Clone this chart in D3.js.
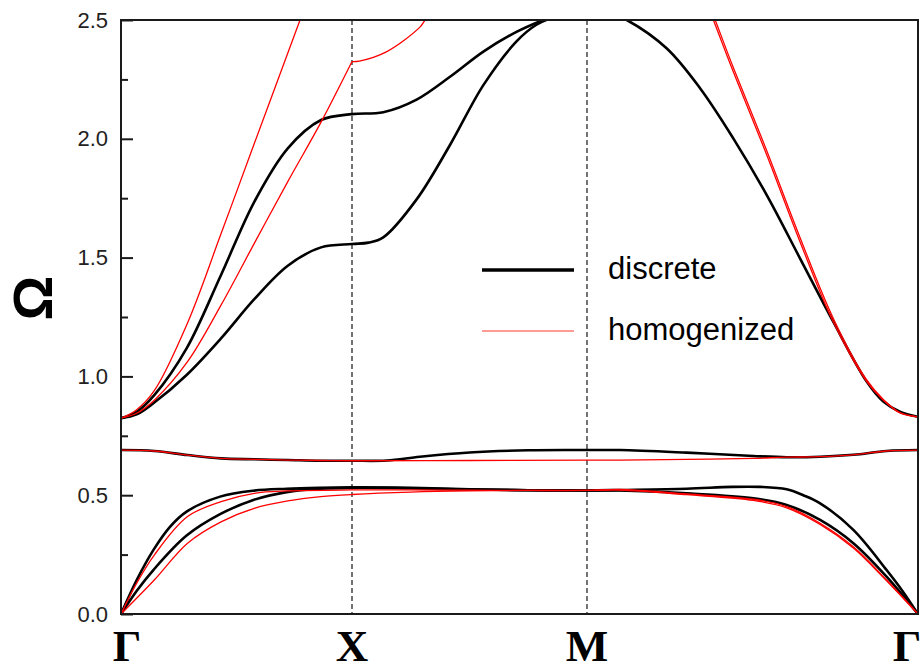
<!DOCTYPE html>
<html>
<head>
<meta charset="utf-8">
<script src="https://cdn.jsdelivr.net/npm/d3@7"></script>
<style>
  body { margin: 0; background: #fff; }
  svg { display: block; }
</style>
</head>
<body>
<svg id="chart"></svg>
<script>
// path positions of the symmetry points: Γ-X = 1, X-M = 1, M-Γ = √2
const kPoints = [0, 1, 2, 2 + Math.SQRT2];
const kLabels = ["Γ", "X", "M", "Γ"];
const majorTicks = [0, 0.5, 1.0, 1.5, 2.0, 2.5];
const minorTicks = [0.25, 0.75, 1.25, 1.75, 2.25];
const seriesNames = ["discrete", "homogenized"];

// discrete model, [k, Ω]
const dAcoustic1 = [[0,0],[0.068,0.143],[0.14,0.269],[0.212,0.367],[0.284,0.431],[0.429,0.494],[0.573,0.519],[0.717,0.527],[0.86,0.531],[1,0.533],
  [1.25,0.531],[1.5,0.525],[1.75,0.521],[2,0.52],
  [2.141,0.522],[2.426,0.527],[2.62,0.535],[2.74,0.535],[2.853,0.525],[2.924,0.50],[2.996,0.466],[3.138,0.354],[3.28,0.185],[3.35,0.094],[3.414,0]];
const dAcoustic2 = [[0,0],[0.07,0.1],[0.14,0.185],[0.284,0.33],[0.429,0.42],[0.573,0.48],[0.717,0.513],[0.86,0.527],[1,0.531],
  [1.25,0.529],[1.5,0.524],[1.75,0.521],[2,0.52],
  [2.141,0.52],[2.426,0.508],[2.711,0.487],[2.853,0.459],[2.996,0.396],[3.138,0.298],[3.28,0.157],[3.414,0]];
const dOptical = [[0,0.69],[0.144,0.686],[0.288,0.669],[0.433,0.655],[0.577,0.651],[0.722,0.648],[0.866,0.645],[1,0.645],
  [1.148,0.646],[1.289,0.662],[1.5,0.68],[1.75,0.689],[2,0.69],
  [2.141,0.69],[2.426,0.679],[2.711,0.665],[2.853,0.66],[2.996,0.662],[3.138,0.67],[3.28,0.686],[3.414,0.69]];
const dUpper1 = [[0,0.824],[0.068,0.851],[0.144,0.921],[0.284,1.118],[0.433,1.427],[0.577,1.735],[0.722,1.96],[0.866,2.079],[1,2.104],
  [1.133,2.112],[1.275,2.165],[1.417,2.261],[1.559,2.367],[1.7,2.45],[1.813,2.5],[1.92,2.54],[2,2.56]];
const dUpper2 = [[0,0.824],[0.068,0.84],[0.14,0.887],[0.284,1.006],[0.433,1.16],[0.577,1.325],[0.722,1.466],[0.866,1.543],[1,1.557],
  [1.07,1.563],[1.133,1.585],[1.275,1.745],[1.417,1.974],[1.559,2.226],[1.7,2.41],[1.783,2.479],[1.854,2.51],[2,2.54]];
const dUpper3 = [[2,2.545],[2.08,2.535],[2.17,2.5],[2.34,2.381],[2.483,2.213],[2.625,2.002],[2.768,1.763],[2.91,1.497],[3.052,1.23],
  [3.195,0.978],[3.266,0.894],[3.337,0.851],[3.414,0.83]];

// homogenized model, [k, Ω]
const hAcoustic1 = [[0,0],[0.068,0.13],[0.144,0.248],[0.288,0.41],[0.433,0.473],[0.577,0.508],[0.722,0.518],[1,0.522],
  [1.25,0.522],[1.5,0.521],[1.75,0.52],[2,0.52],
  [2.141,0.524],[2.426,0.505],[2.711,0.483],[2.853,0.452],[2.996,0.382],[3.138,0.283],[3.28,0.143],[3.414,0]];
const hAcoustic2 = [[0,0],[0.144,0.143],[0.288,0.298],[0.433,0.388],[0.577,0.445],[0.722,0.476],[0.866,0.494],[1,0.503],
  [1.25,0.513],[1.5,0.518],[1.75,0.52],[2,0.52],
  [2.141,0.521],[2.426,0.502],[2.711,0.478],[2.853,0.447],[2.996,0.377],[3.138,0.278],[3.28,0.14],[3.414,0]];
const hOptical = [[0,0.69],[0.144,0.686],[0.288,0.669],[0.433,0.655],[0.577,0.651],[0.722,0.648],[0.866,0.646],[1,0.645],
  [1.5,0.646],[2,0.648],
  [2.141,0.648],[2.426,0.651],[2.711,0.655],[2.853,0.66],[2.996,0.662],[3.138,0.67],[3.28,0.686],[3.414,0.69]];
const hUpper1 = [[0,0.824],[0.068,0.86],[0.144,0.94],[0.288,1.225],[0.433,1.60],[0.577,1.98],[0.775,2.5],[0.85,2.7]];
const hUpper2 = [[0,0.824],[0.068,0.845],[0.144,0.9],[0.288,1.062],[0.433,1.30],[0.577,1.56],[0.722,1.82],[0.866,2.07],[1,2.325]];
const hUpper2b = [[1,2.325],[1.031,2.327],[1.148,2.367],[1.289,2.47],[1.311,2.5],[1.4,2.62]];
const hUpper3a = [[2.45,2.73],[2.54,2.5],[2.625,2.282],[2.768,1.932],[2.91,1.567],[3.052,1.23],[3.195,0.978],[3.266,0.9],[3.337,0.846],[3.414,0.83]];
const hUpper3b = [[2.45,2.75],[2.54,2.52],[2.625,2.30],[2.768,1.95],[2.91,1.585],[3.052,1.245],[3.195,0.985],[3.266,0.903],[3.337,0.848],[3.414,0.83]];

const discrete = [dAcoustic1, dAcoustic2, dOptical, dUpper1, dUpper2, dUpper3];
const homogenized = [hAcoustic1, hAcoustic2, hOptical, hUpper1, hUpper2, hUpper2b, hUpper3a, hUpper3b];

const width = 922, height = 670;
const plotLeft = 121, plotRight = 918, plotTop = 20, plotBottom = 614;

const x = d3.scaleLinear()
    .domain(kPoints)
    .range([plotLeft, 352, 587, plotRight]);

const y = d3.scaleLinear()
    .domain([0, 2.5])
    .range([plotBottom, plotTop]);

const svg = d3.select("#chart")
    .attr("width", width)
    .attr("height", height)
    .attr("font-family", "'Liberation Sans', Arial, sans-serif");

svg.append("defs").append("clipPath")
    .attr("id", "plot")
    .append("rect")
    .attr("x", plotLeft).attr("y", plotTop)
    .attr("width", plotRight - plotLeft).attr("height", plotBottom - plotTop);

// dashed lines at X and M
svg.append("g")
    .selectAll("line")
    .data(kPoints.slice(1, 3))
    .join("line")
    .attr("x1", d => x(d)).attr("x2", d => x(d))
    .attr("y1", plotTop).attr("y2", plotBottom)
    .attr("stroke", "#444")
    .attr("stroke-width", 1.5)
    .attr("stroke-dasharray", "5,3");

const line = d3.line()
    .x(d => x(d[0]))
    .y(d => y(d[1]))
    .curve(d3.curveCatmullRom.alpha(0.5));

const curves = svg.append("g").attr("clip-path", "url(#plot)");

curves.selectAll("path.discrete")
    .data(discrete)
    .join("path")
    .attr("class", "discrete")
    .attr("d", line)
    .attr("fill", "none")
    .attr("stroke", "#000")
    .attr("stroke-width", 2.6);

curves.selectAll("path.homog")
    .data(homogenized)
    .join("path")
    .attr("class", "homog")
    .attr("d", line)
    .attr("fill", "none")
    .attr("stroke", "#ff0000")
    .attr("stroke-width", 1.3);

// frame
svg.append("rect")
    .attr("x", plotLeft).attr("y", plotTop)
    .attr("width", plotRight - plotLeft).attr("height", plotBottom - plotTop)
    .attr("fill", "none")
    .attr("stroke", "#1a1a1a")
    .attr("stroke-width", 2);

// y axis, ticks pointing in
const yAxis = svg.append("g")
    .attr("transform", `translate(${plotLeft},0)`)
    .call(d3.axisLeft(y).tickValues(majorTicks).tickSize(-12).tickPadding(13).tickFormat(d3.format(".1f")));
yAxis.select(".domain").remove();
yAxis.selectAll("line").attr("stroke", "#1a1a1a").attr("stroke-width", 2);
yAxis.selectAll("text").attr("font-size", 22).attr("fill", "#222")
    .attr("font-family", "'Liberation Sans', Arial, sans-serif");

const yMinor = svg.append("g")
    .attr("transform", `translate(${plotLeft},0)`)
    .call(d3.axisLeft(y).tickValues(minorTicks).tickSize(-7).tickFormat(""));
yMinor.select(".domain").remove();
yMinor.selectAll("line").attr("stroke", "#1a1a1a").attr("stroke-width", 2);

// k-point labels
svg.append("g")
    .selectAll("text")
    .data(kLabels)
    .join("text")
    .attr("x", (d, i) => x(kPoints[i]) + (i === 0 ? 6 : i === kLabels.length - 1 ? -11 : 0))
    .attr("y", 661)
    .attr("text-anchor", "middle")
    .attr("font-family", "'Liberation Serif', 'Times New Roman', serif")
    .attr("font-weight", "bold")
    .attr("font-size", 45)
    .attr("fill", "#000")
    .text(d => d);

// Ω axis title
svg.append("text")
    .attr("transform", "translate(32,298) rotate(-90)")
    .attr("text-anchor", "middle")
    .attr("dy", "0.35em")
    .attr("font-weight", "bold")
    .attr("font-size", 56)
    .attr("fill", "#000")
    .text("Ω");

// legend
const legend = svg.append("g")
    .selectAll("g")
    .data(seriesNames)
    .join("g")
    .attr("transform", (d, i) => `translate(482,${270 + i * 61})`);

legend.append("line")
    .attr("x1", 0).attr("x2", 92)
    .attr("stroke", (d, i) => i === 0 ? "#000" : "#ff3a2a")
    .attr("stroke-width", (d, i) => i === 0 ? 3.5 : 1.2);

legend.append("text")
    .attr("x", 126)
    .attr("y", 6)
    .attr("dy", "0.1em")
    .attr("font-size", 31)
    .attr("fill", "#000")
    .text(d => d);
</script>
</body>
</html>
